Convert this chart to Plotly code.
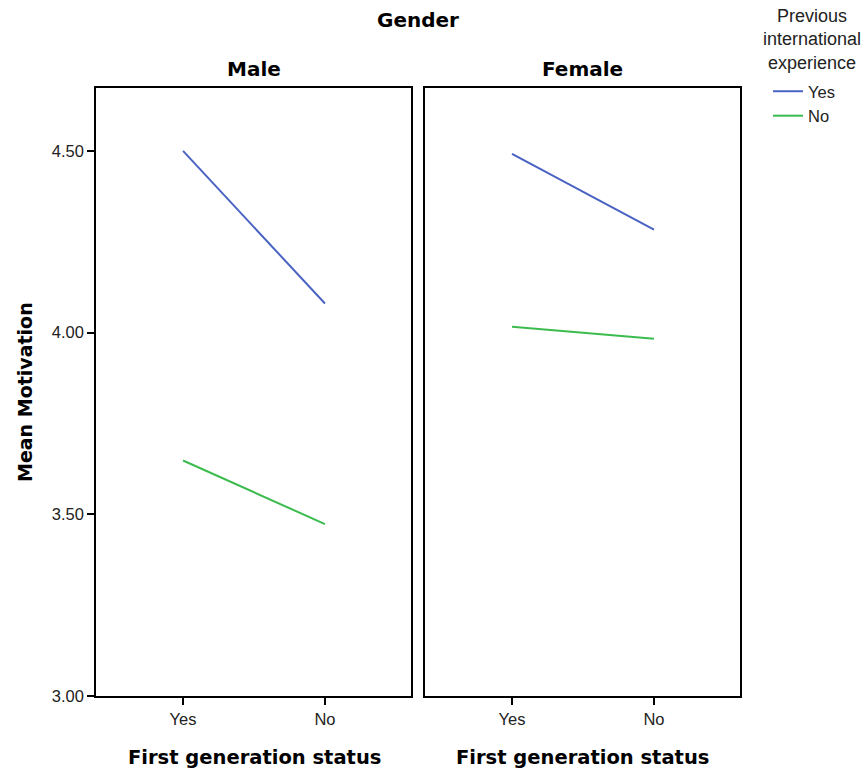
import plotly.graph_objects as go

# Estimated marginal means of Motivation
first_gen = ["Yes", "No"]
male_yes = [4.50, 4.08]
male_no = [3.648, 3.473]
female_yes = [4.492, 4.283]
female_no = [4.016, 3.983]
y_ticks = [3.00, 3.50, 4.00, 4.50]
y_tick_text = ["3.00", "3.50", "4.00", "4.50"]

BLUE = "#4A63C2"
GREEN = "#3CBB4E"
FONT = "Liberation Sans, Arial, sans-serif"
BOLD = "DejaVu Sans, Verdana, sans-serif"

W, H = 867, 770
L, R, T, B = 96, 740, 88, 696  # plot area in pixels


def px(x):
    return (x - L) / (R - L)


def py(y):
    return (B - y) / (B - T)


fig = go.Figure()
panels = [("x", "y", male_yes, male_no, True), ("x2", "y2", female_yes, female_no, False)]
for xa, ya, yes_vals, no_vals, legend in panels:
    fig.add_trace(go.Scatter(x=[0, 1], y=yes_vals, mode="lines", name="Yes",
                             line=dict(color=BLUE, width=2), xaxis=xa, yaxis=ya,
                             showlegend=legend, legendgroup="yes"))
    fig.add_trace(go.Scatter(x=[0, 1], y=no_vals, mode="lines", name="No",
                             line=dict(color=GREEN, width=2), xaxis=xa, yaxis=ya,
                             showlegend=legend, legendgroup="no"))

xcommon = dict(range=[-0.613, 1.606], tickvals=[0, 1], ticktext=first_gen,
               ticks="outside", ticklen=7, tickwidth=1.5, tickcolor="black",
               showline=True, linecolor="black", linewidth=1.5, mirror=True,
               showgrid=False, zeroline=False,
               tickfont=dict(family=FONT, size=16.5, color="#222"))
ycommon = dict(range=[3.0, 4.673], showline=True, linecolor="black", linewidth=1.5,
               mirror=True, showgrid=False, zeroline=False)

fig.update_layout(
    width=W, height=H,
    margin=dict(l=L, r=W - R, t=T, b=H - B),
    paper_bgcolor="white", plot_bgcolor="white",
    xaxis=dict(domain=[0, px(411)], anchor="y", **xcommon),
    xaxis2=dict(domain=[px(425), 1], anchor="y2", **xcommon),
    yaxis=dict(anchor="x", tickvals=y_ticks, ticktext=y_tick_text, ticks="outside",
               ticklen=7, tickwidth=1.5, tickcolor="black",
               tickfont=dict(family=FONT, size=16.5, color="#222"), **ycommon),
    yaxis2=dict(anchor="x2", matches="y", showticklabels=False, ticks="", **ycommon),
    showlegend=True,
    legend=dict(x=px(768), y=py(74), xanchor="left", yanchor="top",
                font=dict(family=FONT, size=16.5, color="#222"),
                itemwidth=30, tracegroupgap=0, bgcolor="rgba(0,0,0,0)"),
)

annotations = [
    dict(text="<b>Gender</b>", x=px(418), y=py(20), size=20, family=BOLD),
    dict(text="<b>Male</b>", x=px(254), y=py(69), size=20, family=BOLD),
    dict(text="<b>Female</b>", x=px(582), y=py(69), size=20, family=BOLD),
    dict(text="<b>First generation status</b>", x=px(254), y=py(757), size=19.5, family=BOLD),
    dict(text="<b>First generation status</b>", x=px(582), y=py(757), size=19.5, family=BOLD),
    dict(text="Previous<br>international<br>experience", x=px(812), y=py(40), size=18,
         family=FONT, color="#222"),
]
for a in annotations:
    fig.add_annotation(text=a["text"], x=a["x"], y=a["y"], xref="paper", yref="paper",
                       xanchor="center", yanchor="middle", showarrow=False,
                       font=dict(family=a["family"], size=a["size"], color=a.get("color", "black")))
fig.add_annotation(text="<b>Mean Motivation</b>", x=px(25), y=py(392), xref="paper",
                   yref="paper", xanchor="center", yanchor="middle", showarrow=False,
                   textangle=-90, font=dict(family=BOLD, size=19, color="black"))

fig.write_html("out.html")
